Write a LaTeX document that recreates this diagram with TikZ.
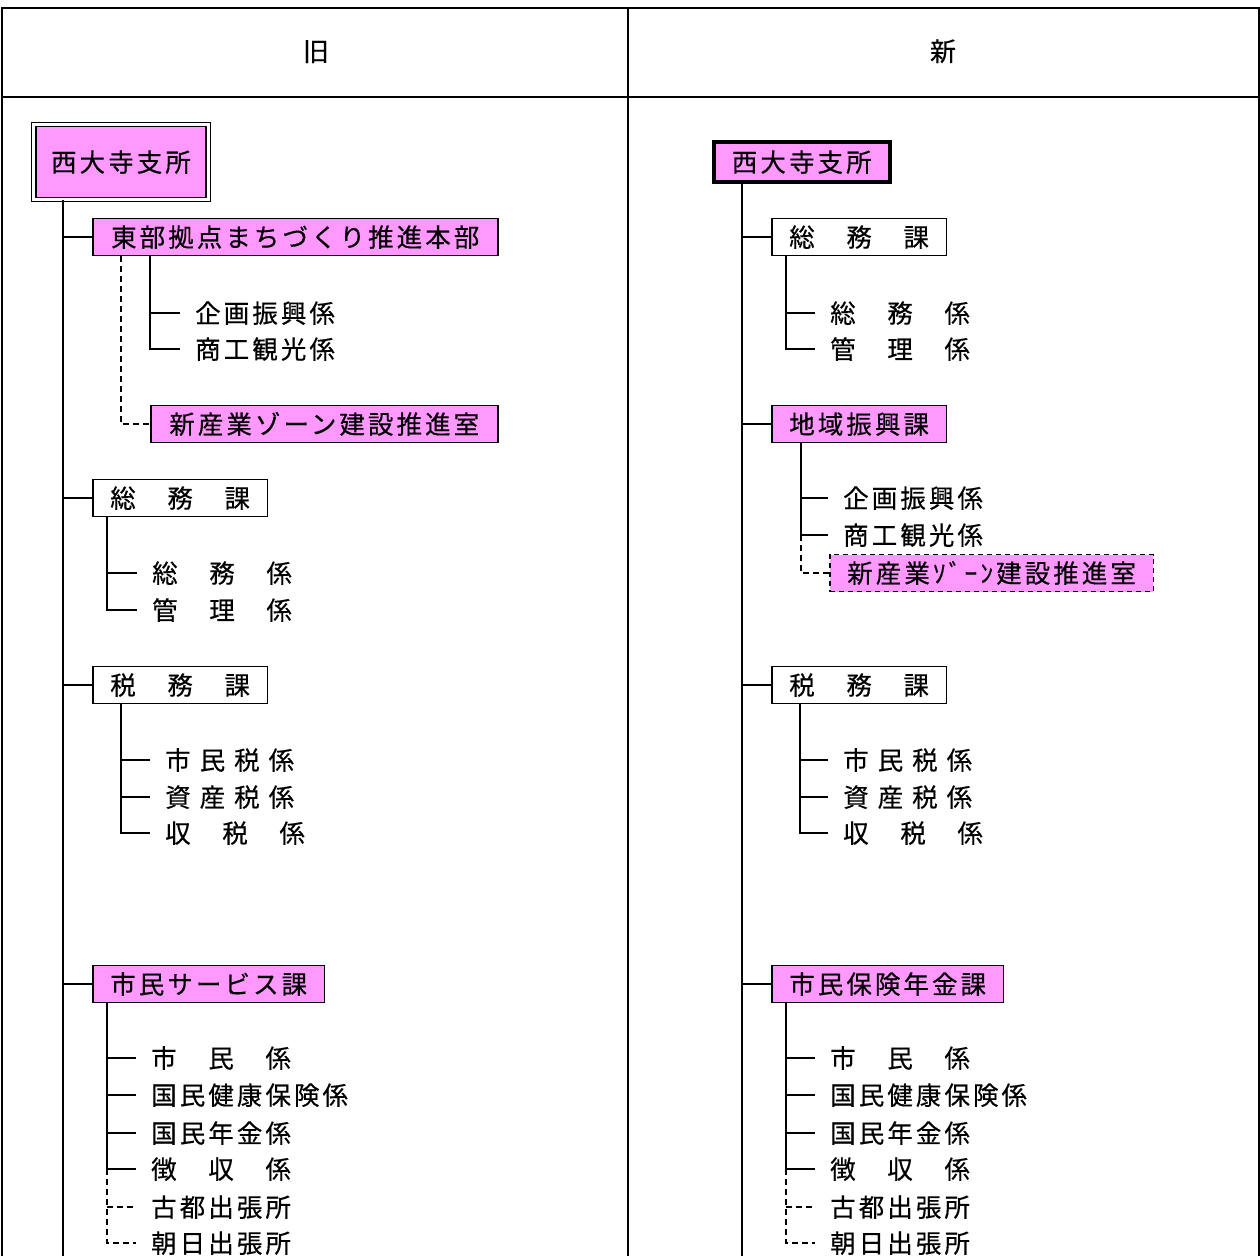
\documentclass[tikz,border=0pt]{standalone}
\usepackage{fontspec}
\setmainfont[FakeBold=0.4,LetterSpace=12]{Noto Sans CJK JP}
\definecolor{kapink}{RGB}{255,153,255}
\newcommand\kagap{\hspace{9pt}}
\tikzset{
  kabox/.style={draw, line width=1.5pt, anchor=west, inner xsep=17.5pt, inner ysep=0pt,
    minimum height=37pt, text height=22.5pt, text depth=3pt,
    font=\fontsize{25.5}{28}\selectfont},
  pinkbox/.style={kabox, fill=kapink},
  kakari/.style={anchor=west, inner xsep=15pt, inner ysep=0pt,
    text height=22.5pt, text depth=3pt, font=\fontsize{25.5}{28}\selectfont},
  frame/.style={line width=2pt},
  solidline/.style={line width=1.6pt},
  dashline/.style={line width=1.6pt, dash pattern=on 6pt off 4pt}
}
\begin{document}
\begin{tikzpicture}[x=1pt,y=-1pt]
\useasboundingbox (0,0) rectangle (1260,1256);
% table frame
\draw[frame] (1.5,1256) -- (1.5,8) -- (1258.5,8) -- (1258.5,1256);
\draw[frame] (1.5,97) -- (1258.5,97);
\draw[frame] (628,8) -- (628,1256);
\node[font=\fontsize{26}{28}\selectfont, text height=23pt, text depth=3pt] (kyu) at (316,51) {旧};
\node[font=\fontsize{26}{28}\selectfont, text height=23pt, text depth=3pt] (shin) at (943,51) {新};

% ---- old ----
\node[pinkbox, anchor=center, double, double distance=3.5pt, line width=1.2pt,
  minimum width=174pt, minimum height=75pt] (Lhonsho) at (121,162) {西大寺支所};
\coordinate (Ltrunk) at (63,1256);
\draw[solidline] (Lhonsho.south -| Ltrunk) -- (Ltrunk);

\node[pinkbox, minimum width=405pt] (Lhonbu) at (92,237) {東部拠点まちづくり推進本部};
\node[kakari] (Lkikaku) at (180,313) {企画振興係};
\node[kakari] (Lshoko) at (180,349) {商工観光係};
\node[pinkbox, minimum width=347pt] (Lzone) at (150,424) {新産業ゾーン建設推進室};
\coordinate (Lhonbu-t) at ([xshift=58pt]Lhonbu.south west);
\coordinate (Lhonbu-d) at ([xshift=29pt]Lhonbu.south west);
\draw[solidline] (Lhonbu.west -| Ltrunk) -- (Lhonbu.west);
\draw[solidline] (Lhonbu-t) |- (Lshoko.west);
\draw[solidline] (Lhonbu-t |- Lkikaku.west) -- (Lkikaku.west);
\draw[dashline] (Lhonbu-d) |- (Lzone.west);

\node[kabox] (Lsomu) at (92,498) {総　務　課};
\node[kakari] (Lsomukk) at (137,573) {総　務　係};
\node[kakari] (Lkanri) at (137,610) {管　理　係};
\coordinate (Lsomu-t) at ([xshift=15pt]Lsomu.south west);
\draw[solidline] (Lsomu.west -| Ltrunk) -- (Lsomu.west);
\draw[solidline] (Lsomu-t) |- (Lkanri.west);
\draw[solidline] (Lsomu-t |- Lsomukk.west) -- (Lsomukk.west);

\node[kabox] (Lzeimu) at (92,685) {税　務　課};
\node[kakari] (Lshiminzei) at (150,760) {市\kagap 民\kagap 税\kagap 係};
\node[kakari] (Lshisan) at (150,797) {資\kagap 産\kagap 税\kagap 係};
\node[kakari] (Lshuzei) at (150,833) {収　税　係};
\coordinate (Lzeimu-t) at ([xshift=29pt]Lzeimu.south west);
\draw[solidline] (Lzeimu.west -| Ltrunk) -- (Lzeimu.west);
\draw[solidline] (Lzeimu-t) |- (Lshuzei.west);
\foreach \k in {Lshiminzei,Lshisan}
  \draw[solidline] (Lzeimu-t |- \k.west) -- (\k.west);

\node[pinkbox] (Lservice) at (92,984) {市民サービス課};
\node[kakari] (Lshimin) at (136,1058) {市　民　係};
\node[kakari] (Lkokuho) at (136,1095) {国民健康保険係};
\node[kakari] (Lnenkin) at (136,1133) {国民年金係};
\node[kakari] (Lchoshu) at (136,1169) {徴　収　係};
\node[kakari] (Lkoto) at (136,1207) {古都出張所};
\node[kakari] (Lasahi) at (136,1243) {朝日出張所};
\coordinate (Lservice-t) at ([xshift=15pt]Lservice.south west);
\draw[solidline] (Lservice.west -| Ltrunk) -- (Lservice.west);
\draw[solidline] (Lservice-t) |- (Lchoshu.west);
\foreach \k in {Lshimin,Lkokuho,Lnenkin}
  \draw[solidline] (Lservice-t |- \k.west) -- (\k.west);
\draw[dashline] (Lservice-t |- Lchoshu.west) |- (Lasahi.west);
\draw[dashline] (Lservice-t |- Lkoto.west) -- (Lkoto.west);

% ---- new ----
\node[pinkbox, line width=3.5pt, minimum width=176pt, minimum height=40pt] (Rhonsho) at (712,162) {西大寺支所};
\coordinate (Rtrunk) at (742,1256);
\draw[solidline] (Rhonsho.south -| Rtrunk) -- (Rtrunk);

\node[kabox] (Rsomu) at (771,237) {総　務　課};
\node[kakari] (Rsomukk) at (815,313) {総　務　係};
\node[kakari] (Rkanri) at (815,349) {管　理　係};
\coordinate (Rsomu-t) at ([xshift=15pt]Rsomu.south west);
\draw[solidline] (Rsomu.west -| Rtrunk) -- (Rsomu.west);
\draw[solidline] (Rsomu-t) |- (Rkanri.west);
\draw[solidline] (Rsomu-t |- Rsomukk.west) -- (Rsomukk.west);

\node[pinkbox] (Rshinko) at (771,424) {地域振興課};
\node[kakari] (Rkikaku) at (828,498) {企画振興係};
\node[kakari] (Rshoko) at (828,535) {商工観光係};
\node[pinkbox, dash pattern=on 5pt off 4pt, minimum width=318pt] (Rzone) at (829,573) {新産業ｿﾞｰﾝ建設推進室};
\coordinate (Rshinko-t) at ([xshift=30pt]Rshinko.south west);
\draw[solidline] (Rshinko.west -| Rtrunk) -- (Rshinko.west);
\draw[solidline] (Rshinko-t) |- (Rshoko.west);
\draw[solidline] (Rshinko-t |- Rkikaku.west) -- (Rkikaku.west);
\draw[dashline] (Rshinko-t |- Rshoko.west) |- (Rzone.west);

\node[kabox] (Rzeimu) at (771,685) {税　務　課};
\node[kakari] (Rshiminzei) at (828,760) {市\kagap 民\kagap 税\kagap 係};
\node[kakari] (Rshisan) at (828,797) {資\kagap 産\kagap 税\kagap 係};
\node[kakari] (Rshuzei) at (828,833) {収　税　係};
\coordinate (Rzeimu-t) at ([xshift=29pt]Rzeimu.south west);
\draw[solidline] (Rzeimu.west -| Rtrunk) -- (Rzeimu.west);
\draw[solidline] (Rzeimu-t) |- (Rshuzei.west);
\foreach \k in {Rshiminzei,Rshisan}
  \draw[solidline] (Rzeimu-t |- \k.west) -- (\k.west);

\node[pinkbox] (Rhoken) at (771,984) {市民保険年金課};
\node[kakari] (Rshimin) at (815,1058) {市　民　係};
\node[kakari] (Rkokuho) at (815,1095) {国民健康保険係};
\node[kakari] (Rnenkin) at (815,1133) {国民年金係};
\node[kakari] (Rchoshu) at (815,1169) {徴　収　係};
\node[kakari] (Rkoto) at (815,1207) {古都出張所};
\node[kakari] (Rasahi) at (815,1243) {朝日出張所};
\coordinate (Rhoken-t) at ([xshift=15pt]Rhoken.south west);
\draw[solidline] (Rhoken.west -| Rtrunk) -- (Rhoken.west);
\draw[solidline] (Rhoken-t) |- (Rchoshu.west);
\foreach \k in {Rshimin,Rkokuho,Rnenkin}
  \draw[solidline] (Rhoken-t |- \k.west) -- (\k.west);
\draw[dashline] (Rhoken-t |- Rchoshu.west) |- (Rasahi.west);
\draw[dashline] (Rhoken-t |- Rkoto.west) -- (Rkoto.west);
\end{tikzpicture}
\end{document}
